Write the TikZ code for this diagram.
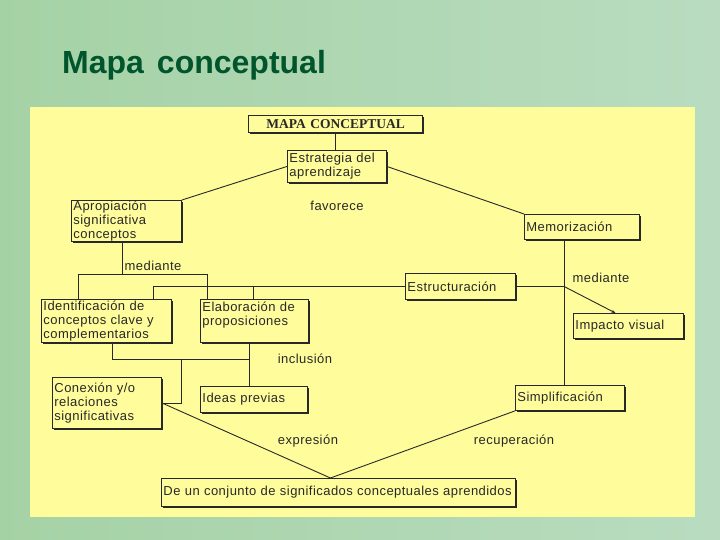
\documentclass[tikz,border=0pt]{standalone}
\usepackage{fontspec}
\setmainfont{Liberation Serif}
\setsansfont{Liberation Sans}
\newfontfamily\bxf[LetterSpace=3.5]{Liberation Sans}
\usetikzlibrary{shadows,calc,arrows.meta}
\definecolor{bgA}{RGB}{165,210,165}
\definecolor{bgB}{RGB}{185,220,192}
\definecolor{panel}{RGB}{255,252,155}
\definecolor{ttl}{RGB}{0,85,45}
\definecolor{ink}{RGB}{40,40,40}
\begin{document}
\begin{tikzpicture}[x=1pt,y=-1pt,
  cbox/.style={draw=ink, line width=0.9pt, fill=panel,
    font=\fontsize{13}{14}\selectfont\bxf, text=ink, align=left,
    anchor=north west, inner xsep=2pt, inner ysep=0.5pt,
    drop shadow={shadow xshift=1.2pt, shadow yshift=-1.2pt, fill=ink, opacity=1}},
  lbl/.style={font=\fontsize{13}{14}\selectfont\bxf, text=ink, inner sep=0pt},
  conn/.style={draw=ink, line width=0.9pt}]
\useasboundingbox (0,0) rectangle (720,540);
\shade[left color=bgA, right color=bgB] (0,0) rectangle (720,540);
\fill[panel] (30,107) rectangle (695,517);
\node[font=\fontsize{32}{36}\selectfont\sffamily\bfseries, text=ttl, anchor=base west, inner sep=0pt] (title) at (62,74) {Mapa\hspace{13pt}conceptual};

% boxes
\node[cbox, text width=170pt, minimum height=17pt, align=center, line width=1.3pt,
  font=\fontsize{13.5}{14}\selectfont\rmfamily\bfseries] (mc) at (248,115) {MAPA CONCEPTUAL};
\node[cbox, text width=95pt, minimum height=32pt] (est) at (287,150) {Estrategia del\\aprendizaje};
\node[cbox, text width=106pt, minimum height=41pt] (apr) at (71,200) {Apropiación\\significativa\\conceptos};
\node[cbox, text width=111pt, minimum height=25pt] (mem) at (524,214) {Memorización};
\node[cbox, text width=106pt, minimum height=26pt] (estr) at (405,273) {Estructuración};
\node[cbox, text width=126pt, minimum height=43pt] (ide) at (41,299) {Identificación de\\conceptos clave y\\complementarios};
\node[cbox, text width=104pt, minimum height=43pt] (ela) at (200,299) {Elaboración de\\proposiciones\\\mbox{}};
\node[cbox, text width=106pt, minimum height=25pt] (imp) at (573,313) {Impacto visual};
\node[cbox, text width=105pt, minimum height=51pt] (con) at (52,377) {Conexión y/o\\relaciones\\significativas};
\node[cbox, text width=103pt, minimum height=26pt] (ipr) at (200,386) {Ideas previas};
\node[cbox, text width=105pt, minimum height=25pt] (sim) at (515,385) {Simplificación};
\node[cbox, text width=350pt, minimum height=28pt] (dec) at (161,478) {De un conjunto de significados conceptuales aprendidos};

% labels
\node[lbl] (lfav) at (337,206) {favorece};
\node[lbl] (lmed1) at (153,266) {mediante};
\node[lbl] (linc) at (305,359) {inclusión};
\node[lbl] (lexp) at (308,441) {expresión};
\node[lbl] (lrec) at (514,441) {recuperación};
\node[lbl] (lmed2) at (601,278) {mediante};

% connectors
\draw[conn, line width=1.6pt] (mc.south) -- (mc.south |- est.north);
\draw[conn] (est.west) -- (apr.north east);
\draw[conn] (est.east) -- (mem.north west);

\coordinate (j1) at (122,274);
\coordinate (j1l) at (78,274);
\coordinate (j1r) at (207,274);
\draw[conn] (apr.south -| j1) -- (j1);
\draw[conn] (j1l |- ide.north) -- (j1l) -- (j1r) -- (j1r |- ela.north);

\coordinate (j2l) at (153,284);
\coordinate (j2m) at (253,284);
\draw[conn] (estr.west) -| (ide.north -| j2l);
\draw[conn] (estr.west -| j2m) -- (ela.north -| j2m);

\coordinate (xm) at (564,0);
\draw[conn] (mem.south -| xm) -- (sim.north -| xm);
\draw[conn] (estr.east) -- (estr.east -| xm);
\coordinate (impt) at ($(imp.north)+(-13,0)$);
\draw[conn, -{Stealth[length=4pt,width=3pt]}] (estr.east -| xm) -- (impt);

\coordinate (xf) at (112,359);
\coordinate (xg) at (249,359);
\coordinate (xh) at (181,359);
\draw[conn] (ide.south -| xf) -- (xf) -- (xg);
\draw[conn] (ela.south -| xg) -- (ipr.north -| xg);
\draw[conn] (xh) |- (con.east);

\coordinate (dm) at ($(dec.north)+(-8,0)$);
\draw[conn] (con.east) -- (dm) -- (sim.south west);
\end{tikzpicture}
\end{document}
